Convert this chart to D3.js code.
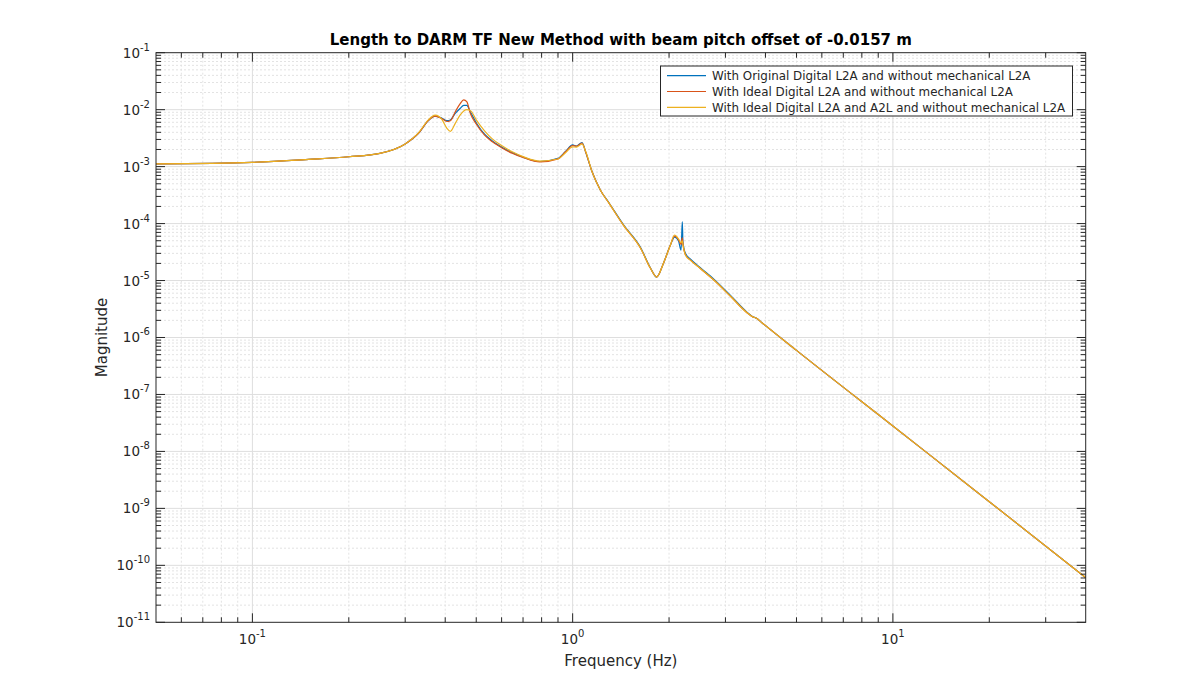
<!DOCTYPE html>
<html>
<head>
<meta charset="utf-8">
<script src="https://cdn.jsdelivr.net/npm/d3@7"></script>
<style>
  body { margin: 0; background: #fff; }
  text { font-family: "DejaVu Sans", sans-serif; fill: #262626; }
  .grid-major { stroke: #dedede; stroke-width: 1; }
  .grid-minor { stroke: #e3e3e3; stroke-width: 1; stroke-dasharray: 2,2; }
  .axis-line { stroke: #262626; stroke-width: 1; fill: none; }
  .trace { fill: none; stroke-width: 1.2; }
</style>
</head>
<body>
<div id="chart"></div>
<script>
// Frequency grid (Hz) shared by all three transfer functions.
const freqHz = [0.05, 0.1, 0.15, 0.2, 0.25, 0.3, 0.33, 0.355, 0.372, 0.39, 0.405, 0.415, 0.43, 0.445,
  0.457, 0.467, 0.48, 0.5, 0.53, 0.56, 0.6, 0.65, 0.7, 0.79, 0.9, 0.95, 1.0, 1.027, 1.07, 1.1, 1.15,
  1.22, 1.3, 1.44, 1.63, 1.75, 1.83, 1.92, 2.02, 2.08, 2.14, 2.18, 2.2, 2.21, 2.25, 2.33, 2.5, 2.76,
  3.1, 3.51, 3.65, 3.75, 3.9, 5, 10, 20, 40];

// |L -> DARM| for each configuration.
const magOriginalL2A = [1.12e-3, 1.19e-3, 1.34e-3, 1.49e-3, 1.71e-3, 2.5e-3, 3.85e-3, 6.5e-3, 7.7e-3, 7.1e-3,
  6.4e-3, 6.6e-3, 8.6e-3, 1.05e-2, 1.19e-2, 1.19e-2, 9.0e-3, 5.9e-3, 3.75e-3, 2.85e-3, 2.2e-3, 1.74e-3,
  1.47e-3, 1.23e-3, 1.4e-3, 1.85e-3, 2.4e-3, 2.3e-3, 2.65e-3, 1.75e-3, 8.1e-4, 3.9e-4, 2.3e-4, 9.6e-5,
  3.8e-5, 1.66e-5, 1.15e-5, 2.0e-5, 4.2e-5, 5.8e-5, 5.0e-5, 3.4e-5, 1.08e-4, 4.8e-5, 3.0e-5, 2.4e-5,
  1.7e-5, 1.06e-5, 5.6e-6, 2.76e-6, 2.32e-6, 2.18e-6, 1.82e-6, 5.94e-7, 2.79e-8, 1.31e-9, 6.07e-11];

const magIdealL2A = [1.12e-3, 1.19e-3, 1.34e-3, 1.49e-3, 1.71e-3, 2.5e-3, 3.85e-3, 6.5e-3, 7.7e-3, 7.0e-3,
  6.2e-3, 6.4e-3, 9.2e-3, 1.26e-2, 1.48e-2, 1.38e-2, 8.4e-3, 5.6e-3, 3.6e-3, 2.75e-3, 2.15e-3, 1.7e-3,
  1.45e-3, 1.21e-3, 1.37e-3, 1.82e-3, 2.35e-3, 2.28e-3, 2.6e-3, 1.75e-3, 8.1e-4, 3.9e-4, 2.27e-4, 9.4e-5,
  3.7e-5, 1.64e-5, 1.15e-5, 2.0e-5, 4.2e-5, 6.0e-5, 5.2e-5, 4.3e-5, 5.6e-5, 4.4e-5, 2.85e-5, 2.3e-5,
  1.64e-5, 1.02e-5, 5.4e-6, 2.7e-6, 2.3e-6, 2.18e-6, 1.82e-6, 5.94e-7, 2.79e-8, 1.31e-9, 6.07e-11];

const magIdealL2AA2L = [1.12e-3, 1.19e-3, 1.34e-3, 1.49e-3, 1.71e-3, 2.5e-3, 3.9e-3, 6.7e-3, 8.0e-3, 6.8e-3,
  4.7e-3, 4.15e-3, 5.75e-3, 8.0e-3, 9.5e-3, 1.0e-2, 9.6e-3, 6.6e-3, 4.3e-3, 3.1e-3, 2.35e-3, 1.8e-3,
  1.5e-3, 1.25e-3, 1.36e-3, 1.75e-3, 2.22e-3, 2.2e-3, 2.48e-3, 1.8e-3, 8.1e-4, 3.9e-4, 2.27e-4, 9.4e-5,
  3.7e-5, 1.64e-5, 1.15e-5, 2.0e-5, 4.2e-5, 6.3e-5, 5.4e-5, 4.6e-5, 5.0e-5, 4.3e-5, 2.8e-5, 2.28e-5,
  1.64e-5, 1.02e-5, 5.4e-6, 2.7e-6, 2.3e-6, 2.18e-6, 1.82e-6, 5.94e-7, 2.79e-8, 1.31e-9, 6.07e-11];

const seriesNames = [
  'With Original Digital L2A and without mechanical L2A',
  'With Ideal Digital L2A and without mechanical L2A',
  'With Ideal Digital L2A and A2L and without mechanical L2A',
];
const seriesColors = ['#0072BD', '#D95319', '#EDB120'];

const xDomain = [0.05, 40];
const xMajorTicks = [0.1, 1, 10];
const xTickExponents = ['-1', '0', '1'];
const yExponents = [-11, -10, -9, -8, -7, -6, -5, -4, -3, -2, -1];

const W = 1200, H = 700;
const margin = { top: 52.7, right: 114.3, bottom: 77.7, left: 156 };
const innerW = W - margin.left - margin.right;
const innerH = H - margin.top - margin.bottom;

const svg = d3.select('#chart').append('svg').attr('width', W).attr('height', H);
const g = svg.append('g').attr('transform', `translate(${margin.left},${margin.top})`);

const x = d3.scaleLog().domain(xDomain).range([0, innerW]);
const y = d3.scaleLog().domain([1e-11, 1e-1]).range([innerH, 0]);

// Minor positions: 2..9 of every decade that falls inside the domain.
const xMinor = [];
for (let e = -2; e <= 1; e++) {
  for (let m = 2; m <= 9; m++) {
    const v = m * Math.pow(10, e);
    if (v > xDomain[0] && v < xDomain[1]) xMinor.push(v);
  }
}
const yMinor = [];
for (let e = -11; e < -1; e++) {
  for (let m = 2; m <= 9; m++) yMinor.push(m * Math.pow(10, e));
}
const yMajor = yExponents.map((e) => Math.pow(10, e));

// Grid: dashed minor first, solid major on top.
g.append('g').selectAll('line').data(xMinor).join('line').attr('class', 'grid-minor')
  .attr('x1', (d) => x(d)).attr('x2', (d) => x(d)).attr('y1', 0).attr('y2', innerH);
g.append('g').selectAll('line').data(yMinor).join('line').attr('class', 'grid-minor')
  .attr('x1', 0).attr('x2', innerW).attr('y1', (d) => y(d)).attr('y2', (d) => y(d));
g.append('g').selectAll('line').data(xMajorTicks).join('line').attr('class', 'grid-major')
  .attr('x1', (d) => x(d)).attr('x2', (d) => x(d)).attr('y1', 0).attr('y2', innerH);
g.append('g').selectAll('line').data(yMajor.slice(1, -1)).join('line').attr('class', 'grid-major')
  .attr('x1', 0).attr('x2', innerW).attr('y1', (d) => y(d)).attr('y2', (d) => y(d));

// Traces (blue drawn first, yellow ends up on top like MATLAB's plot order).
const line = d3.line().x((d) => x(d[0])).y((d) => y(d[1])).curve(d3.curveMonotoneX);
const clip = svg.append('clipPath').attr('id', 'plot-clip');
clip.append('rect').attr('width', innerW).attr('height', innerH);
const traces = g.append('g').attr('clip-path', 'url(#plot-clip)');
[magOriginalL2A, magIdealL2A, magIdealL2AA2L].forEach((mag, i) => {
  traces.append('path').attr('class', 'trace')
    .attr('stroke', seriesColors[i])
    .attr('d', line(freqHz.map((f, j) => [f, mag[j]])));
});

// Box with inward ticks on all four sides.
g.append('rect').attr('class', 'axis-line').attr('width', innerW).attr('height', innerH);
const MAJ = 9, MIN = 5;
const tickG = g.append('g').attr('stroke', '#262626').attr('stroke-width', 1);
const xTicks = xMajorTicks.map((v) => [v, MAJ]).concat(xMinor.map((v) => [v, MIN]));
xTicks.forEach(([v, len]) => {
  tickG.append('line').attr('x1', x(v)).attr('x2', x(v)).attr('y1', innerH).attr('y2', innerH - len);
  tickG.append('line').attr('x1', x(v)).attr('x2', x(v)).attr('y1', 0).attr('y2', len);
});
const yTicks = yMajor.map((v) => [v, MAJ]).concat(yMinor.map((v) => [v, MIN]));
yTicks.forEach(([v, len]) => {
  tickG.append('line').attr('x1', 0).attr('x2', len).attr('y1', y(v)).attr('y2', y(v));
  tickG.append('line').attr('x1', innerW).attr('x2', innerW - len).attr('y1', y(v)).attr('y2', y(v));
});

// Tick labels as 10 with a superscript exponent.
xMajorTicks.forEach((v, i) => {
  const t = g.append('text').attr('x', x(v)).attr('y', innerH + 22).attr('text-anchor', 'middle')
    .attr('font-size', 13.5);
  t.append('tspan').text('10');
  t.append('tspan').attr('dy', -7).attr('font-size', 10).text(xTickExponents[i]);
});
yExponents.forEach((e) => {
  const t = g.append('text').attr('x', -6).attr('y', y(Math.pow(10, e)) + 5).attr('text-anchor', 'end')
    .attr('font-size', 13.5);
  t.append('tspan').text('10');
  t.append('tspan').attr('dy', -7).attr('font-size', 10).text(String(e));
});

// Title and axis labels.
svg.append('text').attr('x', margin.left + innerW / 2).attr('y', 45).attr('text-anchor', 'middle')
  .attr('font-size', 15).attr('font-weight', 'bold').style('fill', '#000')
  .text('Length to DARM TF New Method with beam pitch offset of -0.0157 m');
svg.append('text').attr('x', margin.left + innerW / 2).attr('y', 666).attr('text-anchor', 'middle')
  .attr('font-size', 15).text('Frequency (Hz)');
svg.append('text').attr('transform', `translate(107,${margin.top + innerH / 2}) rotate(-90)`)
  .attr('text-anchor', 'middle').attr('font-size', 15).text('Magnitude');

// Legend, upper right.
const legend = svg.append('g').attr('transform', 'translate(660.5,66)');
legend.append('rect').attr('width', 412).attr('height', 50).attr('fill', '#fff')
  .attr('stroke', '#262626').attr('stroke-width', 1);
seriesNames.forEach((name, i) => {
  const ly = 9.7 + i * 15.8;
  legend.append('line').attr('x1', 6.5).attr('x2', 45.5).attr('y1', ly).attr('y2', ly)
    .attr('stroke', seriesColors[i]).attr('stroke-width', 1.2);
  legend.append('text').attr('x', 51.5).attr('y', ly + 4.2).attr('font-size', 11.9).text(name);
});
</script>
</body>
</html>
